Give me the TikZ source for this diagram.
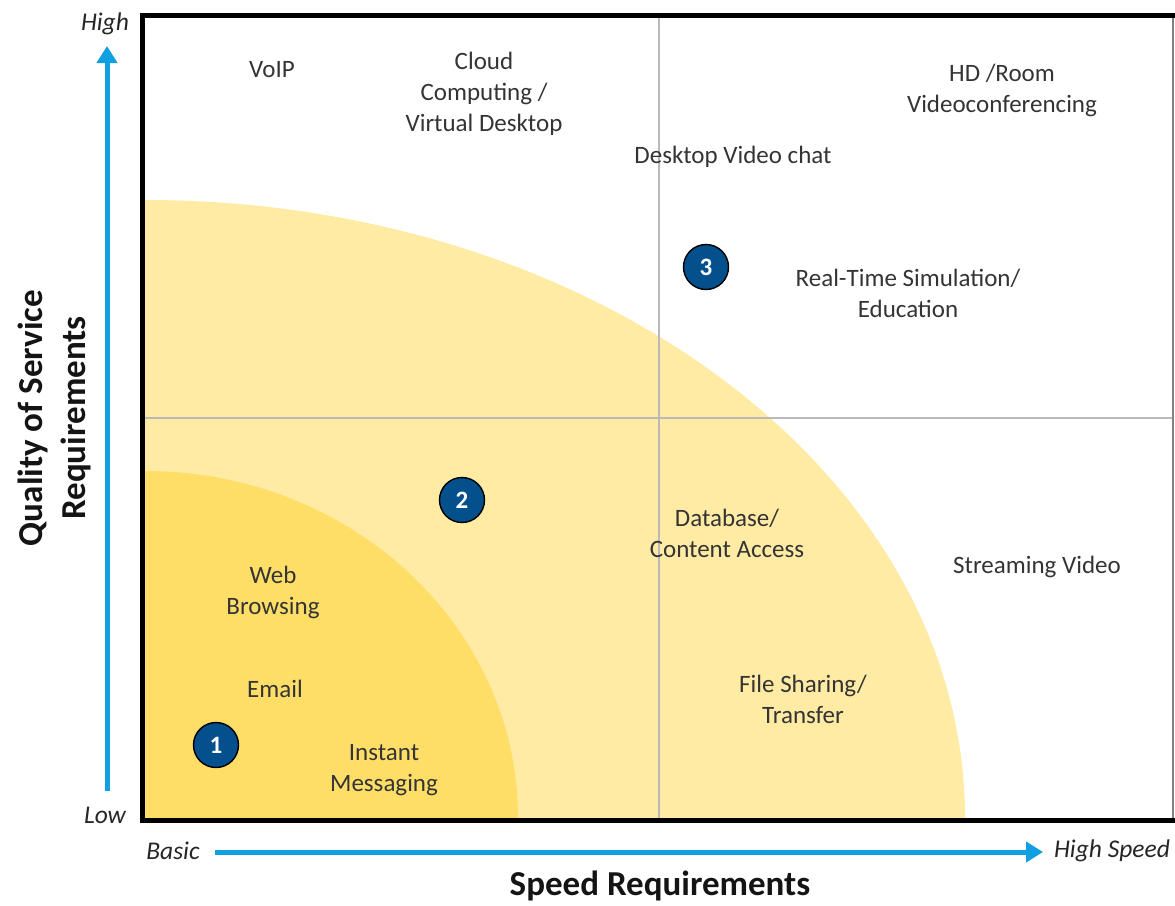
\documentclass[tikz,border=0pt]{standalone}
\usepackage{fontspec}
\setmainfont{Carlito}
\usetikzlibrary{arrows.meta}
\definecolor{outery}{RGB}{255,235,163}
\definecolor{innery}{RGB}{255,222,104}
\definecolor{navy}{RGB}{4,80,140}
\definecolor{axblue}{RGB}{16,160,226}
\definecolor{lblgray}{RGB}{52,52,52}
\definecolor{gridgray}{RGB}{185,185,185}
\tikzset{
  lbl/.style={font=\fontsize{25}{31}\selectfont, text=lblgray, align=center, inner sep=0pt},
  endlbl/.style={font=\fontsize{25.5}{30}\itshape, text=black!85, inner sep=0pt},
  title/.style={font=\fontsize{35}{43}\bfseries, text=black!92, align=center, inner sep=0pt},
  badge/.style={circle, fill=navy, draw=black, line width=1.4pt, minimum size=45pt, inner sep=0pt,
    text=white, font=\fontsize{25}{25}\bfseries},
  axisarrow/.style={draw=axblue, line width=5pt, -{Triangle[width=20pt,length=17pt]}},
  gridline/.style={draw=gridgray, line width=2pt}
}
\begin{document}
\begin{tikzpicture}[x=1pt,y=-1pt]
\useasboundingbox (0,0) rectangle (1175,905);
% regions
\fill[outery] (145,818) -- (965,818) arc[start angle=0, end angle=-90, x radius=820, y radius=618] -- cycle;
\fill[innery] (145,818) -- (518,818) arc[start angle=0, end angle=-90, x radius=373, y radius=347] -- cycle;
% grid
\coordinate (gvt) at (659,17);
\coordinate (gvb) at (659,818);
\coordinate (ghl) at (145,418);
\coordinate (ghr) at (1173,418);
\draw[gridline] (gvt) -- (gvb);
\draw[gridline] (ghl) -- (ghr);
% frame
\draw[draw=gridgray!70!black, line width=2pt] (1173,15) -- (1173,818);
\draw[black, line width=5pt] (1175,15) -- (142.5,15) -- (142.5,820.5) -- (1175,820.5);
% labels
\node[lbl] (voip) at (272,70) {VoIP};
\node[lbl] (cloud) at (484,94) {Cloud\\Computing /\\Virtual Desktop};
\node[lbl] (hd) at (1002,90) {HD /Room\\Videoconferencing};
\node[lbl] (desk) at (733,157) {Desktop Video chat};
\node[lbl] (rts) at (908,293) {Real-Time Simulation/\\Education};
\node[lbl] (db) at (727,533) {Database/\\Content Access};
\node[lbl] (stream) at (1037,567) {Streaming Video};
\node[lbl] (web) at (273,592) {Web\\Browsing};
\node[lbl] (email) at (275,689) {Email};
\node[lbl] (file) at (803,699) {File Sharing/\\Transfer};
\node[lbl] (im) at (384,770) {Instant\\Messaging};
% badges
\node[badge] (b1) at (216,745) {1};
\node[badge] (b2) at (462,500) {2};
\node[badge] (b3) at (706,267) {3};
% axes
\node[endlbl] (high) at (105,24) {High};
\node[endlbl] (low) at (105,815) {Low};
\node[endlbl] (basic) at (173,851) {Basic};
\node[endlbl] (hs) at (1112,851) {High Speed};
\coordinate (vstart) at (107,791);
\coordinate (vend) at (107,46);
\coordinate (hstart) at (215,852);
\coordinate (hend) at (1043,852);
\draw[axisarrow] (vstart) -- (vend);
\draw[axisarrow] (hstart) -- (hend);
\node[title] (xt) at (660,886) {Speed Requirements};
\node[title, rotate=90] (yt) at (54,418) {Quality of Service\\Requirements};
\end{tikzpicture}
\end{document}
